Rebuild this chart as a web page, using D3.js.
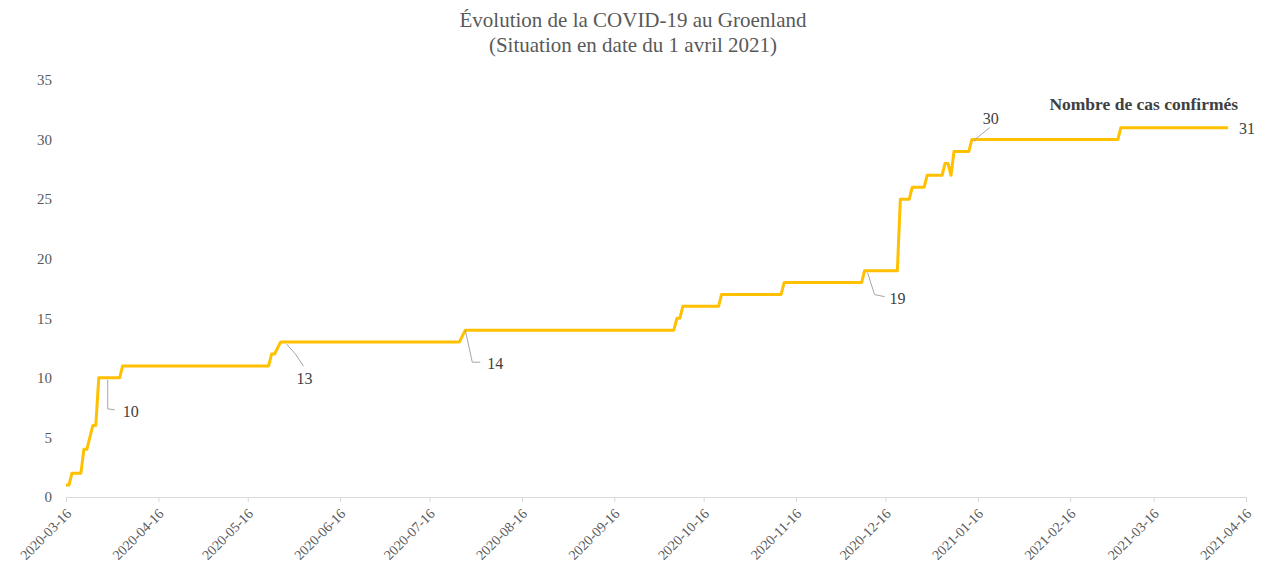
<!DOCTYPE html>
<html lang="fr">
<head>
<meta charset="utf-8">
<script src="https://cdn.jsdelivr.net/npm/d3@7"></script>
<style>
  body { margin: 0; background: #fff; }
  svg { display: block; font-family: "Liberation Serif", "DejaVu Serif", serif; }
</style>
</head>
<body>
<svg id="chart" width="1266" height="569"></svg>
<script>
// Cumulative confirmed cases (points where the line bends)
var dates = ["2020-03-16","2020-03-17","2020-03-18","2020-03-21","2020-03-22","2020-03-23","2020-03-24",
  "2020-03-25","2020-03-26","2020-03-27","2020-04-03","2020-04-04","2020-05-23","2020-05-24","2020-05-25",
  "2020-05-27","2020-07-26","2020-07-28","2020-10-06","2020-10-07","2020-10-08","2020-10-09","2020-10-21",
  "2020-10-22","2020-11-11","2020-11-12","2020-12-08","2020-12-09","2020-12-20","2020-12-21","2020-12-24",
  "2020-12-25","2020-12-29","2020-12-30","2021-01-04","2021-01-05","2021-01-06","2021-01-07","2021-01-08",
  "2021-01-13","2021-01-14","2021-03-04","2021-03-05","2021-04-10"];
var cases = [1,1,2,2,4,4,5,
  6,6,10,10,11,11,12,12,
  13,13,14,14,15,15,16,16,
  17,17,18,18,19,19,25,25,
  26,26,27,27,28,28,27,29,
  29,30,30,31,31];

// x ticks and y ticks
var xTicks = ["2020-03-16","2020-04-16","2020-05-16","2020-06-16","2020-07-16","2020-08-16","2020-09-16",
  "2020-10-16","2020-11-16","2020-12-16","2021-01-16","2021-02-16","2021-03-16","2021-04-16"];
var yTicks = [0,5,10,15,20,25,30,35];

// labelled points
var noteDates = ["2020-03-30","2020-05-29","2020-07-28","2020-12-10","2021-01-15","2021-04-10"];
var noteValues = [10,13,14,19,30,31];

var title1 = "Évolution de la COVID-19 au Groenland";
var title2 = "(Situation en date du 1 avril 2021)";
var seriesName = "Nombre de cas confirmés";

var parse = d3.utcParse("%Y-%m-%d");
var fmt = d3.utcFormat("%Y-%m-%d");

var margin = {top: 80, right: 20, bottom: 72, left: 66},
    width = 1266 - margin.left - margin.right,
    height = 569 - margin.top - margin.bottom;

var svg = d3.select("#chart");
var g = svg.append("g")
    .attr("transform", "translate(" + margin.left + "," + margin.top + ")");

var x = d3.scaleUtc()
    .domain([parse(xTicks[0]), parse(xTicks[xTicks.length - 1])])
    .range([0, width]);
var y = d3.scaleLinear()
    .domain([0, 35])
    .range([height, 0]);

var textColor = "#595959";

// title
svg.append("text")
    .attr("x", 633).attr("y", 27)
    .attr("text-anchor", "middle")
    .style("font-size", "21px")
    .style("fill", textColor)
    .text(title1);
svg.append("text")
    .attr("x", 633).attr("y", 52)
    .attr("text-anchor", "middle")
    .style("font-size", "21px")
    .style("fill", textColor)
    .text(title2);

// y axis (labels only)
var yAxis = g.append("g")
    .call(d3.axisLeft(y).tickValues(yTicks).tickSize(0).tickPadding(14));
yAxis.select(".domain").remove();
yAxis.selectAll("text")
    .style("font-family", "Liberation Serif, serif")
    .style("font-size", "15px")
    .style("fill", textColor);

// x axis
var xAxis = g.append("g")
    .attr("transform", "translate(0," + height + ")")
    .call(d3.axisBottom(x).tickValues(xTicks.map(parse)).tickFormat(fmt).tickSizeOuter(0).tickSizeInner(5));
xAxis.select(".domain").attr("stroke", "#d9d9d9");
xAxis.selectAll(".tick line").attr("stroke", "#d9d9d9");
xAxis.selectAll("text")
    .style("font-family", "Liberation Serif, serif")
    .style("font-size", "14px")
    .style("fill", textColor)
    .attr("text-anchor", "end")
    .attr("dy", null)
    .attr("transform", "translate(0,12) rotate(-45)");

// line
var points = dates.map(function(d, i) { return [parse(d), cases[i]]; });
var line = d3.line()
    .x(function(d) { return x(d[0]); })
    .y(function(d) { return y(d[1]); });

g.append("path")
    .datum(points)
    .attr("fill", "none")
    .attr("stroke", "#FFC000")
    .attr("stroke-width", 3)
    .attr("stroke-linejoin", "round")
    .attr("d", line);

// data labels with leader lines
// leader: offsets of the bend and end, label: offset of the text
var noteLayout = [
  {bend: [0, 31], end: [7, 32], text: [15, 34], anchor: "start"},
  {bend: [9, 12], end: [17, 24], text: [18, 36], anchor: "middle"},
  {bend: [0, 0], end: [7, 32], text: [22, 33], anchor: "start", tail: [15, 32]},
  {bend: [7, 24], end: [17, 26], text: [22, 28], anchor: "start"},
  {bend: [0, 0], end: [15, -12], text: [16, -21], anchor: "middle"},
  null
];

noteDates.forEach(function(d, i) {
  var px = x(parse(d)), py = y(noteValues[i]);
  var lay = noteLayout[i];
  if (lay) {
    var pts = [[px, py + 2], [px + lay.bend[0], py + lay.bend[1]], [px + lay.end[0], py + lay.end[1]]];
    if (lay.tail) pts.push([px + lay.tail[0], py + lay.tail[1]]);
    g.append("path")
        .attr("d", d3.line()(pts))
        .attr("fill", "none")
        .attr("stroke", "#a6a6a6")
        .attr("stroke-width", 1);
    g.append("text")
        .attr("x", px + lay.text[0])
        .attr("y", py + lay.text[1])
        .attr("dy", "0.35em")
        .attr("text-anchor", lay.anchor)
        .style("font-size", "16px")
        .style("fill", "#404040")
        .text(noteValues[i]);
  } else {
    g.append("text")
        .attr("x", px + 11)
        .attr("y", py + 1)
        .attr("dy", "0.35em")
        .style("font-size", "16px")
        .style("fill", "#404040")
        .text(noteValues[i]);
  }
});

// series name
g.append("text")
    .attr("x", x(parse(noteDates[5])) + 10)
    .attr("y", y(31) - 18)
    .attr("text-anchor", "end")
    .style("font-size", "17.5px")
    .style("font-weight", "bold")
    .style("fill", "#404040")
    .text(seriesName);
</script>
</body>
</html>
